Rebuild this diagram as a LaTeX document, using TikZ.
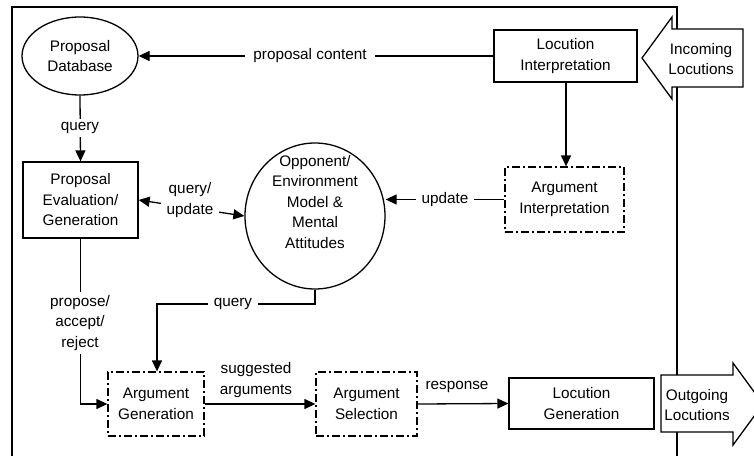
\documentclass[tikz,border=0pt]{standalone}
\usepackage{fontspec}
\setmainfont{Liberation Sans}
\usetikzlibrary{shapes.geometric,arrows.meta}
\begin{document}
\begin{tikzpicture}[x=1pt,y=-1pt,
  every node/.style={font=\fontsize{15.3}{20.5}\selectfont, align=center, inner sep=0pt},
  solidbox/.style={draw, line width=1.3pt, rectangle},
  dashbox/.style={draw, line width=1.3pt, rectangle, dash pattern=on 8pt off 3pt on 2pt off 3pt},
  ell/.style={draw, line width=1.3pt, ellipse},
  conn/.style={line width=1.3pt, -{Triangle[length=11pt,width=10pt]}},
  biconn/.style={line width=1.3pt, {Triangle[length=11pt,width=10pt]}-{Triangle[length=11pt,width=10pt]}},
  lbl/.style={fill=white, inner sep=3pt},
  bigarrow/.style={draw, line width=1.3pt, fill=white, line join=miter}
]
\useasboundingbox (0,0) rectangle (754,455);
\clip (0,0) rectangle (754,455);
% frame
\draw[line width=1.5pt] (12,470) -- (12,7) -- (677,7) -- (677,470);

% nodes
\node[ell, minimum width=116pt, minimum height=78pt] (db) at (80,56) {Proposal\\Database};
\node[solidbox, minimum width=115pt, minimum height=76pt] (peg) at (80.5,200) {Proposal\\Evaluation/\\Generation};
\node[ell, minimum width=140pt, minimum height=146pt] (opp) at (315,216) {};
\node (opptext) at (315,202) {Opponent/\\Environment\\Model \&\\Mental\\Attitudes};
\node[solidbox, minimum width=143pt, minimum height=52pt] (li) at (565.5,56) {Locution\\Interpretation};
\node[dashbox, minimum width=119pt, minimum height=65pt] (ai) at (564.5,199.5) {Argument\\Interpretation};
\node[dashbox, minimum width=96pt, minimum height=64pt] (ag) at (156,404) {Argument\\Generation};
\node[dashbox, minimum width=101pt, minimum height=64pt] (as) at (366.5,404) {Argument\\Selection};
\node[solidbox, minimum width=145pt, minimum height=51pt] (lg) at (581.5,403.5) {Locution\\Generation};

% big arrows
\draw[bigarrow] (642,58) -- (672,17) -- (672,29) -- (743,29) -- (743,87) -- (672,87) -- (672,99) -- cycle;
\node (inc) at (701,59) {Incoming\\Locutions};
\draw[bigarrow] (661,375) -- (733,375) -- (733,363) -- (763,404) -- (733,445) -- (733,432) -- (661,432) -- cycle;
\node (out) at (697,405) {Outgoing\\Locutions};

% connectors
\coordinate (pcl) at (310,56);
\draw[conn] (li.west) -- (db.east);
\node[lbl, inner xsep=8pt] at (pcl) {proposal content};

\draw[conn] (db.south) -- (peg.north);
\node[lbl] at (80,128) {query};

\draw[biconn] (peg.east) -- (opp.west);
\node[lbl, inner xsep=6pt] at (190,200) {query/\\update};

\draw[conn] (li.south -| 566,0) -- (ai.north -| 566,0);

\draw[conn] (ai.west) -- (opp.east |- ai.west);
\node[lbl, inner xsep=6pt] at (445,200) {update};

\coordinate (pb) at (80.5,404);
\draw[conn] (peg.south) -- (pb) -- (ag.west);
\node[lbl] at (80,323) {propose/\\accept/\\reject};

\coordinate (q1) at (315,304);
\coordinate (q2) at (157,304);
\draw[conn] (opp.south) -- (q1) -- (q2) -- (ag.north -| q2);
\node[lbl, inner xsep=6pt] at (233,304) {query};

\draw[conn] (ag.east) -- (as.west);
\node at (256,380) {suggested\\arguments};

\draw[conn] (as.east) -- (lg.west);
\node at (457,387) {response};
\end{tikzpicture}
\end{document}
